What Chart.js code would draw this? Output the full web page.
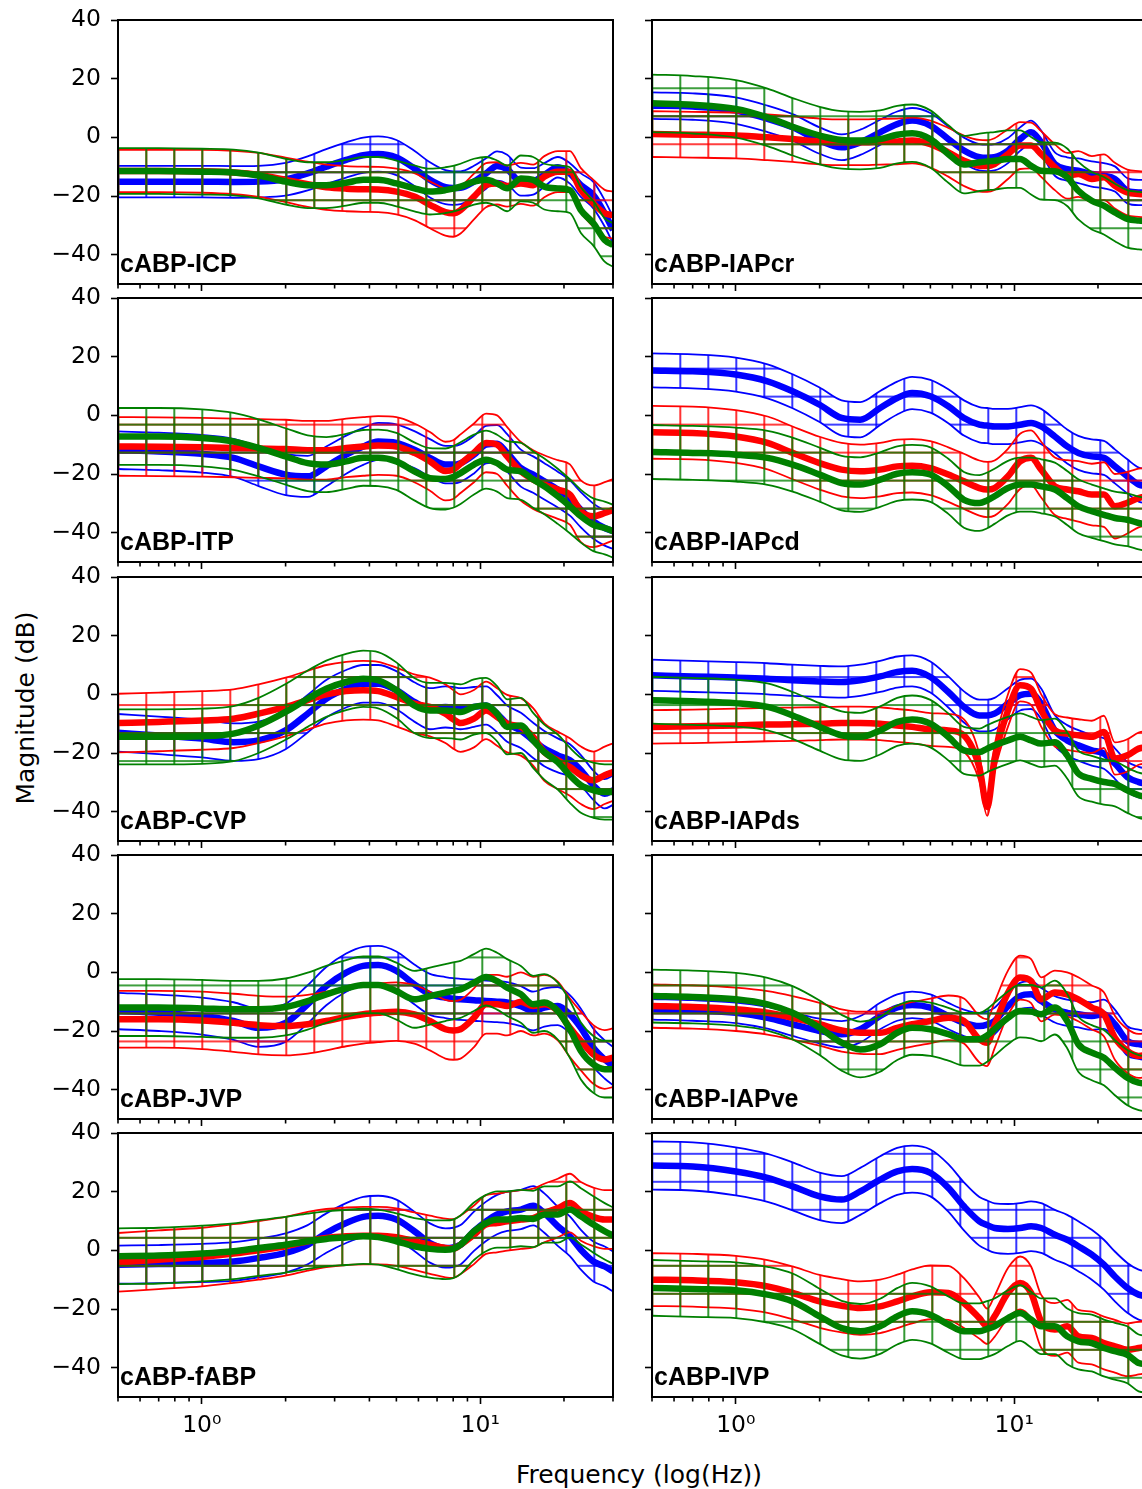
<!DOCTYPE html>
<html>
<head>
<meta charset="utf-8">
<script src="https://cdn.jsdelivr.net/npm/chart.js@4.4.1/dist/chart.umd.min.js"></script>
<style>
  body { margin: 0; width: 1142px; height: 1489px; overflow: hidden; background: #fff; position: relative; }
  canvas { position: absolute; }
  .axtitle { position: absolute; font: 25px "DejaVu Sans"; color: #000; white-space: nowrap; transform: translate(-50%, -50%); }
  #ylab { left: 25px; top: 708px; transform: translate(-50%, -50%) rotate(-90deg); }
  #xlab { left: 639px; top: 1474px; }
</style>
</head>
<body>
<div id="ylab" class="axtitle">Magnitude (dB)</div>
<div id="xlab" class="axtitle">Frequency (log(Hz))</div>
<script>
// frequency grid (Hz) the curves were read at
const freqHz = [0.5,0.7,1,1.3,1.6,2,2.4,2.8,3.3,3.8,4.3,5,5.8,6.6,7.5,8,8.5,9.5,10.5,11.5,12.5,14,15.5,17,19,21,23,25.5,28,30];

const yTicks = [-40, -20, 0, 20, 40];
const xMajor = [1, 10];
const xMajorLabels = ['10\u2070', '10\u00b9'];
const xMinor = [0.5,0.6,0.7,0.8,0.9,2,3,4,5,6,7,8,9,20,30];

const panelNames = ['cABP-ICP','cABP-IAPcr','cABP-ITP','cABP-IAPcd','cABP-CVP','cABP-IAPds','cABP-JVP','cABP-IAPve','cABP-fABP','cABP-IVP'];

// cABP-ICP
const icpBlue = [-15.1,-15.1,-15.1,-15.2,-15.1,-14.3,-12.3,-10,-7.7,-6.1,-5.7,-6.9,-10.6,-14.5,-17,-17.3,-17.2,-15.1,-12.3,-9.8,-10.9,-15.1,-15,-12.8,-10.2,-12.3,-16.3,-19.7,-25.9,-31.6];
const icpBlueSd = [5.4,5.4,5.4,5.4,5.4,5.6,5.8,6,6,6,6,6,6,6,5.8,5.7,5.6,5.4,5.2,5,5,4.8,4.5,4,3.5,3.5,4,4.5,4.5,4.5];
const icpRed = [-11.5,-11.5,-11.6,-12,-12.8,-14.5,-16,-17,-17.5,-17.7,-17.8,-18.5,-20.2,-23,-25.5,-25.9,-24.8,-20.2,-16.3,-15.7,-16.6,-15.7,-16.3,-13.4,-11.7,-11.7,-18,-22.5,-25.9,-26.5];
const icpRedSd = [7.2,7.2,7.3,7.4,7.5,7.6,7.7,7.7,7.7,7.7,7.7,7.8,8,8,8,8,8,7.8,7.5,7.2,7,7,7,7,7,7,7.5,8,8,8];
const icpGreen = [-11.5,-11.5,-11.7,-12,-13,-15.1,-16.3,-16.3,-15.5,-14.5,-14.5,-15.7,-17.4,-18.5,-18,-17.5,-16.8,-15.1,-14.5,-15.7,-17.4,-14,-14.5,-16.8,-17.4,-18,-24.8,-29.3,-35,-36.7];
const icpGreenSd = [7.8,7.8,7.8,7.8,7.8,7.8,7.8,7.8,7.8,7.8,7.8,7.8,7.8,7.8,7.8,7.8,7.8,7.8,7.8,7.8,7.8,7.8,7.8,7.8,7.8,7.8,7.8,7.6,7.4,7.4];

// cABP-IAPcr
const crBlue = [10.8,10.5,9.1,6.3,3.4,-1.1,-3.4,-1.7,1.7,4.5,5.7,4,-0.6,-4.5,-6.8,-7,-6.8,-4.5,-0.6,1.7,-1.7,-9.1,-10.8,-11.4,-12.5,-13.1,-14.2,-18.2,-18.8,-18.8];
const crBlueSd = [4.5,4.5,4.5,4.5,4.5,4.5,4.4,4.3,4.3,4.3,4.3,4.3,4.3,4.4,4.5,4.5,4.5,4.3,4,4,4,4,4,4.2,4.3,4.3,4.3,4.3,4.3,4.3];
const crRed = [1.1,0.9,0.6,0,-0.6,-1.4,-1.7,-1.7,-1.5,-1.4,-1.1,-2.3,-5.1,-8,-9.7,-9.8,-9.1,-5.7,-2.8,-2.8,-5.7,-10.2,-13.1,-12.5,-14.2,-13.6,-16.5,-18.8,-19.3,-19.5];
const crRedSd = [7.8,7.8,7.8,7.8,7.8,7.8,7.8,7.8,7.8,7.8,7.8,8,8.3,8.6,8.8,8.8,8.8,8.5,8,7.8,7.8,7.8,7.8,7.8,7.8,7.8,7.8,7.8,7.8,7.8];
const crGreen = [11.6,11.1,9.7,6.8,3.6,0.6,-0.9,-1.1,-0.6,0.9,1.4,-0.6,-5.7,-9.3,-8.5,-8.2,-8,-7.4,-7.4,-9.7,-11.4,-11.6,-13.6,-18.2,-21.6,-23.3,-25.6,-27.8,-28.4,-28.6];
const crGreenSd = [9.8,9.8,9.8,9.8,9.8,9.8,9.8,9.8,9.8,9.8,9.8,9.8,9.8,9.8,9.8,9.8,9.8,9.8,9.8,9.8,9.8,9.8,9.8,9.8,9.8,9.8,9.8,9.8,9.8,9.8];

// cABP-ITP
const itpBlue = [-11.9,-12.3,-13.1,-14.5,-17.4,-20.2,-20.8,-17.4,-13.4,-10.6,-8.9,-9.4,-11.7,-14.5,-16.8,-16.8,-16.3,-13.4,-10,-9.7,-12.8,-18,-20.2,-22.5,-25.3,-28.2,-32.2,-36.1,-38.4,-39.5];
const itpBlueSd = [6.4,6.4,6.4,6.5,6.7,7,7,6.8,6.5,6.3,6.3,6.3,6.3,6.4,6.4,6.4,6.4,6.4,6.4,6.4,6.4,6.3,6.2,6.2,6.1,6,6,6,6,6];
const itpRed = [-10.6,-10.7,-10.9,-11.1,-11.3,-11.5,-11.9,-11.9,-11.1,-10.6,-10.3,-10.6,-12.8,-15.7,-19,-18.5,-16.5,-12.8,-9.4,-10,-14,-19.1,-21.9,-23.6,-25.3,-27,-32.7,-34.4,-33.3,-32.2];
const itpRedSd = [10,10,10,10,10,10,10,10,10,10,10,10,10,10,10,10,10,10,10,10,10,10,10,10,10,10.3,10.5,10.5,10.5,10.5];
const itpGreen = [-7.2,-7.2,-7.7,-8.9,-11.1,-14,-16.3,-16.8,-15.7,-14.5,-14.5,-15.7,-19.1,-21.4,-21.7,-21,-19.7,-16.8,-15.1,-16.3,-18.5,-19.1,-21.9,-24.2,-27.6,-31,-34.4,-37.3,-38.4,-39.5];
const itpGreenSd = [9.7,9.7,9.7,9.7,9.7,9.6,9.5,9.4,9.4,9.5,9.6,9.7,9.9,10.2,10.4,10.5,10.5,10.2,9.9,9.7,9.7,9.7,9.6,9.5,9.4,9.2,9,9,9,9];

// cABP-IAPcd
const cdBlue = [15.3,15,13.9,11.6,8.2,3.6,-0.9,-1.5,2.5,5.9,7.6,6.5,3.1,-0.9,-3.2,-3.5,-3.8,-3.8,-3.2,-2.6,-3.8,-7.2,-10.6,-12.8,-14,-14.5,-17.4,-20.8,-23.6,-24.2];
const cdBlueSd = [5.8,5.8,5.8,5.8,5.8,5.9,6,6,5.8,5.6,5.5,5.6,5.8,6,6,6,6,6,6,6,6,5.8,5.8,5.8,5.8,5.8,5.8,5.8,5.8,5.8];
const cdRed = [-5.8,-6,-7.2,-9.4,-12.8,-16.3,-18.5,-19.1,-18.5,-17.4,-17.2,-18,-20.2,-22.5,-24.8,-25.3,-24.8,-20.8,-15.7,-14.5,-18.5,-24.2,-25.3,-25.9,-27,-27,-31,-29.8,-28.2,-27.6];
const cdRedSd = [9,9,9,9,9,9,9.1,9.1,9.1,9.1,9.1,9.2,9.3,9.4,9.4,9.4,9.4,9.4,9.4,9.4,9.5,9.8,10,10.3,10.5,11,11,10.5,10,10];
const cdGreen = [-12.5,-12.8,-13.4,-14.5,-16.8,-20.2,-23.1,-23.6,-21.9,-19.9,-19.4,-20.2,-24.2,-28.8,-29.9,-29,-27.6,-24.8,-23.6,-23.6,-24.2,-25.3,-28.2,-31,-32.7,-33.9,-35,-35.6,-36.7,-37.3];
const cdGreenSd = [9.2,9.2,9.2,9.2,9.2,9.2,9.3,9.3,9.3,9.3,9.3,9.3,9.4,9.5,9.5,9.5,9.4,9.3,9.2,9.2,9.2,9.2,9.2,9.2,9.1,9,9,9,9,9];

// cABP-CVP
const cvpBlue = [-13.1,-14,-15.1,-16.3,-15.7,-12.3,-6.6,-1.5,1.9,3.6,3.6,1.4,-2.6,-4.9,-4.3,-4.5,-4.9,-4.3,-3.8,-6.6,-10,-12.3,-15.7,-18.5,-20.8,-22.5,-25.9,-31,-33.9,-32.7];
const cvpBlueSd = [6.4,6.4,6.4,6.4,6.4,6.4,6.4,6.4,6.4,6.4,6.4,6.5,6.7,7,7,7,7,6.8,6.5,6.3,6.2,6,6,6,5.8,5.5,5.2,5,5,5];
const cvpRed = [-9.8,-9.4,-8.9,-8.3,-6.6,-4.3,-2,0,1.1,1.4,1.1,-0.9,-3.2,-4.3,-6.6,-8.5,-9.8,-8.3,-5.5,-7.7,-10,-11.1,-14.5,-19.7,-22.5,-24.8,-27.6,-29.3,-27.6,-26.5];
const cvpRedSd = [10,10,10,10,10,10,10,10,10,10,10,10,10,10,10,10,9.8,9.8,9.8,9.8,9.8,9.8,9.8,9.8,9.8,9.8,9.8,9.8,9.8,9.8];
const cvpGreen = [-14.5,-14.5,-14.3,-13.4,-10.6,-6,-1.5,1.9,4.2,5.3,4.8,1.4,-3.8,-5.5,-5.5,-5.7,-6,-4.3,-3.8,-6.6,-11.1,-10.6,-15.7,-19.7,-23.1,-27.6,-31,-32.7,-33.3,-33.3];
const cvpGreenSd = [9.4,9.4,9.4,9.4,9.4,9.5,9.6,9.6,9.6,9.6,9.6,9.5,9.4,9.4,9.4,9.4,9.4,9.4,9.4,9.4,9.4,9.4,9.4,9.4,9.4,9.4,9.4,9.4,9.4,9.4];

// cABP-IAPds
const dsBlue = [6.5,6.1,5.7,5.3,4.8,4.4,4.2,4.8,6.1,7.6,8,5.9,0.8,-4.3,-7.2,-7.2,-6.6,-3.2,-0.3,0.2,-3.2,-12.3,-15.7,-17.4,-19.1,-20.2,-23.6,-28.2,-29.9,-30.5];
const dsBlueSd = [5.3,5.3,5.3,5.3,5.3,5.3,5.3,5.3,5.3,5.3,5.3,5.3,5.3,5.3,5.4,5.4,5.4,5.3,5.2,5.2,5.2,5.2,5.2,5.2,5.2,5.2,5.2,5.2,5.2,5.2];
const dsRed = [-11.1,-10.9,-10.6,-10.3,-10.2,-10,-9.8,-9.8,-10,-10.6,-11.1,-12,-12.3,-14,-25,-38.4,-22,-5.5,3.1,1.9,-5.5,-12.3,-13.4,-14,-14.5,-12.8,-21.9,-20.8,-18.5,-18];
const dsRedSd = [5.7,5.7,5.7,5.7,5.7,5.6,5.6,5.6,5.6,5.6,5.6,5.6,5.6,5.5,4.5,3,4.5,5.5,5.5,5.5,5.5,5.5,5.5,5.5,5.5,5.5,5.5,5.5,5.5,5.5];
const dsGreen = [-2,-2.4,-3,-4.3,-7.2,-11.1,-14,-14.5,-12.3,-9.4,-8.6,-10,-14.5,-19.1,-19.7,-18.5,-17.4,-15.7,-14.5,-15.7,-16.8,-16.3,-20.8,-27,-28.8,-29.9,-30.5,-32.7,-34.4,-35];
const dsGreenSd = [8,8,8,8,8,8.1,8.2,8.2,8.2,8.2,8.2,8.1,8,8,8,8,8,8,8,8,8,8,7.9,7.8,7.8,7.7,7.7,7.7,7.7,7.7];

// cABP-JVP
const jvpBlue = [-13.2,-13.8,-14.9,-16.6,-18.9,-17.2,-10.9,-4.7,-0.1,2.2,2.5,0.5,-4.1,-7.5,-8.6,-9,-9.2,-9.5,-9.8,-10,-10.3,-11.5,-13.2,-12,-11.5,-14.3,-18.9,-25.7,-29.7,-31.9];
const jvpBlueSd = [6.2,6.2,6.3,6.4,6.5,6.5,6.5,6.5,6.5,6.5,6.5,6.6,6.8,7,7,7,7,7,7,7,7,6.8,6.6,6.5,6.5,6.5,6.5,6.5,6.5,6.5];
const jvpRed = [-16,-16,-16.4,-17.2,-18,-18.3,-17.7,-16.6,-15.2,-14.3,-13.8,-13.4,-14.3,-16.6,-19.4,-19.8,-19.4,-15.5,-10.9,-10.9,-11.5,-10,-11.5,-10.9,-13.2,-18.9,-23.4,-28,-29.7,-29.1];
const jvpRedSd = [9.7,9.7,9.8,9.9,10,10,10,10,10,10,10,10,10,10,10,10,10,10,10,10,10,10,10,10,10,10,10,10,10,10];
const jvpGreen = [-12,-12,-12.3,-12.6,-12.6,-11.8,-9.8,-7.5,-5.5,-4.3,-4.3,-6.4,-9.2,-8.1,-6.9,-6.3,-5.8,-3.5,-1.6,-3,-5.2,-7.5,-10.9,-10.3,-13.2,-19.4,-26.8,-31.4,-33,-33];
const jvpGreenSd = [9.7,9.7,9.7,9.7,9.7,9.7,9.7,9.7,9.7,9.7,9.7,9.7,9.7,9.7,9.7,9.7,9.7,9.7,9.7,9.7,9.7,9.7,9.7,9.7,9.7,9.7,9.7,9.7,9.7,9.7];

// cABP-IAPve
const veBlue = [-12.6,-13,-13.8,-15.5,-17.7,-20,-21.1,-19.4,-14.9,-12,-11.1,-12,-14.9,-17.2,-18.3,-17.8,-16.6,-11.5,-8.1,-7.5,-9.8,-12.6,-13.8,-14.3,-14.9,-14.3,-17.7,-23.4,-24.5,-25];
const veBlueSd = [3.5,3.5,3.5,3.7,4,4.2,4.5,4.5,4.5,4.5,4.5,4.5,4.5,4.5,4.5,4.5,4.5,4.5,4.5,4.5,4.5,4.5,4.5,4.5,4.7,5,5,5,5,5];
const veRed = [-11.5,-11.8,-12.6,-13.8,-15.5,-17.7,-19.8,-20.6,-20.6,-18.9,-17.7,-16.6,-15.5,-16.6,-22.8,-24,-18,-7,-1.8,-3,-9.2,-6.9,-7.5,-9.2,-12,-14.3,-22.3,-26.8,-28.5,-28];
const veRedSd = [7.4,7.4,7.4,7.4,7.4,7.3,7.2,7.2,7.3,7.5,7.6,7.6,7.6,7.7,7.9,8,7.9,7.6,7.5,7.5,7.5,7.5,7.5,7.5,7.5,7.5,7.5,7.5,7.5,7.5];
const veGreen = [-8.1,-8.4,-9.2,-10.9,-13.8,-18.9,-24,-26.3,-24.5,-20.6,-18.9,-19.4,-21.1,-22.8,-22.8,-21.5,-19.4,-15.5,-13.2,-13.4,-14.3,-12,-16.6,-24.5,-27.4,-29.1,-32.5,-35.9,-37.6,-38];
const veGreenSd = [9,9,9,9,9.1,9.3,9.5,9.5,9.4,9.3,9.2,9.1,9,9,9,9,9,9,9,9.1,9.2,9.2,9.3,9.4,9.4,9.4,9.4,9.4,9.4,9.4];

// cABP-fABP
const fabpBlue = [-4.9,-4.7,-4.3,-3.8,-2.6,-0.9,1.9,5.9,9.3,11.4,11.8,10.5,6.5,2.5,0.8,1,1.9,6.5,9.9,12.2,13.3,13.9,15.2,12.7,8.2,4.8,0.2,-3.8,-5.5,-7.2];
const fabpBlueSd = [6.5,6.5,6.5,6.6,6.6,6.7,6.7,6.7,6.8,6.8,6.8,6.8,6.7,6.7,6.7,6.7,6.7,6.7,6.7,6.7,6.7,6.7,6.7,6.7,6.7,6.8,6.8,6.8,6.8,6.8];
const fabpRed = [-4.1,-3.2,-2.3,-1.1,0,1.4,3.1,4.2,4.8,5,5,4.5,3.1,1.9,0.8,0.6,1.9,5.3,8.8,9.3,9.9,10.5,11,12.7,14.4,16.1,13.3,11.4,10.5,10.5];
const fabpRedSd = [10,10,10,10,10,10,10,9.9,9.8,9.8,9.8,9.8,9.8,9.9,10,10,10,10,10,10,10,10,10,10,10,10,10,10,10,10];
const fabpGreen = [-2,-1.8,-1.1,-0.3,0.8,1.9,3.1,3.9,4.4,4.8,4.5,3.1,1.4,0.5,0.2,0.5,1.9,6.5,9.3,10.5,10.5,11,10.7,12.2,12.2,13.9,11.6,8.8,6.5,5];
const fabpGreenSd = [9.5,9.5,9.5,9.5,9.5,9.5,9.4,9.4,9.4,9.4,9.4,9.5,9.6,9.8,10,10,10,9.8,9.6,9.6,9.6,9.6,9.6,9.6,9.6,9.6,9.6,9.6,9.6,9.6];

// cABP-IVP
const ivpBlue = [28.9,28.6,26.9,24.7,21.8,18.4,17.3,20.1,24.1,26.9,27.7,26.4,21.3,15,9.9,8.6,7.6,7.3,7.6,8.2,7.6,5.3,3.6,1.4,-1.5,-4.9,-8.9,-12.8,-15.1,-15.7];
const ivpBlueSd = [8.2,8.2,8.2,8.2,8.2,8.1,8,8,8,8,8,8,8.1,8.2,8.3,8.4,8.4,8.5,8.5,8.5,8.5,8.5,8.5,8.5,8.5,8.5,8.5,8.5,8.5,8.5];
const ivpRed = [-10,-10.2,-10.9,-12.3,-14.5,-17.4,-18.9,-19.7,-19.1,-17.4,-15.7,-14.3,-14.5,-18,-23.1,-25.9,-22.5,-14.5,-11.1,-14.5,-24.2,-27,-25.9,-29.3,-29.9,-31.6,-32.7,-33.9,-33.3,-32.7];
const ivpRedSd = [9,9,9,9,9,9,9.1,9.1,9.1,9.1,9.2,9.2,9.2,8.5,7,6,7,8.5,9,9,9,9,9,9,9,9,9,9,9,9];
const ivpGreen = [-12.8,-13.2,-13.6,-15.1,-17.4,-22.5,-26.5,-27.6,-25.9,-22.5,-20.8,-22,-25.3,-27.6,-27.6,-26.8,-25.9,-23.1,-21.4,-23.6,-25.9,-25.9,-29.3,-31,-31.6,-33.3,-34.4,-35.6,-38.4,-38.8];
const ivpGreenSd = [9.5,9.5,9.5,9.5,9.5,9.4,9.3,9.3,9.4,9.6,9.7,9.7,9.6,9.5,9.5,9.5,9.5,9.5,9.5,9.5,9.5,9.5,9.5,9.6,9.7,9.7,9.7,9.7,9.7,9.7];

const panelSeries = [
  [[icpBlue, icpBlueSd], [icpRed, icpRedSd], [icpGreen, icpGreenSd]],
  [[crBlue, crBlueSd], [crRed, crRedSd], [crGreen, crGreenSd]],
  [[itpBlue, itpBlueSd], [itpRed, itpRedSd], [itpGreen, itpGreenSd]],
  [[cdBlue, cdBlueSd], [cdRed, cdRedSd], [cdGreen, cdGreenSd]],
  [[cvpBlue, cvpBlueSd], [cvpRed, cvpRedSd], [cvpGreen, cvpGreenSd]],
  [[dsBlue, dsBlueSd], [dsRed, dsRedSd], [dsGreen, dsGreenSd]],
  [[jvpBlue, jvpBlueSd], [jvpRed, jvpRedSd], [jvpGreen, jvpGreenSd]],
  [[veBlue, veBlueSd], [veRed, veRedSd], [veGreen, veGreenSd]],
  [[fabpBlue, fabpBlueSd], [fabpRed, fabpRedSd], [fabpGreen, fabpGreenSd]],
  [[ivpBlue, ivpBlueSd], [ivpRed, ivpRedSd], [ivpGreen, ivpGreenSd]]
];
const seriesColors = ['#0000ff', '#ff0000', '#008000'];

// layout (page pixels)
const rowTops = [20, 298, 577, 855, 1133];
const plotH = 264, plotW = 495;
const hatchX0 = [118.3, 652.3], hatchY0 = 88.3;

Chart.defaults.font.family = '"DejaVu Sans"';
Chart.defaults.color = '#000';

function hatch(color, dx, dy) {
  const s = 28;
  const c = document.createElement('canvas');
  c.width = s; c.height = s;
  const g = c.getContext('2d');
  g.strokeStyle = color;
  g.lineWidth = 1.6;
  g.beginPath();
  g.moveTo(0, s / 2); g.lineTo(s, s / 2);
  g.moveTo(s / 2, 0); g.lineTo(s / 2, s);
  g.stroke();
  const p = g.createPattern(c, 'repeat');
  p.setTransform(new DOMMatrix().translate(dx, dy));
  return p;
}
const mod = (a, m) => ((a % m) + m) % m;

const framePlugin = {
  id: 'frame',
  afterDatasetsDraw(chart, args, opts) {
    const { ctx, chartArea: a } = chart;
    const x = chart.scales.x;
    ctx.save();
    ctx.font = 'bold 25px "Liberation Sans"';
    ctx.fillStyle = '#000';
    ctx.textBaseline = 'alphabetic';
    ctx.fillText(opts.name, a.left + 2, a.bottom - 12);
    ctx.strokeStyle = '#000';
    ctx.lineWidth = 1.6;
    ctx.beginPath();
    xMinor.forEach(f => {
      const px = x.getPixelForValue(f);
      ctx.moveTo(px, a.bottom); ctx.lineTo(px, a.bottom + 4.5);
    });
    ctx.stroke();
    ctx.lineWidth = 2;
    ctx.strokeRect(a.left, a.top, a.right - a.left, a.bottom - a.top);
    ctx.restore();
  }
};

panelNames.forEach((name, i) => {
  const row = Math.floor(i / 2), col = i % 2;
  const cLeft = col ? 620 : 0;
  const cW = col ? 540 : 640;
  const plotLeft = col ? 32 : 118;
  const topPad = 24;
  const bottom = row === 4 ? 62 : 14;
  const cTop = rowTops[row] - topPad;
  const cv = document.createElement('canvas');
  cv.width = cW; cv.height = topPad + plotH + bottom;
  cv.style.left = cLeft + 'px'; cv.style.top = cTop + 'px';
  document.body.appendChild(cv);

  const dx = mod(hatchX0[col] - cLeft - 14, 28);
  const dy = mod(hatchY0 - cTop - 14, 28.04);

  // top-most first: Chart.js paints dataset 0 last
  const datasets = [];
  [2, 1, 0].forEach(s => {
    const [mean, sd] = panelSeries[i][s];
    const color = seriesColors[s];
    const pts = arr => arr.map((v, k) => ({ x: freqHz[k], y: v }));
    datasets.push({ data: pts(mean), borderColor: color, borderWidth: 6.5, fill: false });
    datasets.push({ data: pts(mean.map((m, k) => m + sd[k])), borderColor: color, borderWidth: 1.8,
                    fill: '+1', backgroundColor: hatch(color, dx, dy) });
    datasets.push({ data: pts(mean.map((m, k) => m - sd[k])), borderColor: color, borderWidth: 1.8, fill: false });
  });

  new Chart(cv, {
    type: 'line',
    data: { datasets },
    plugins: [framePlugin],
    options: {
      responsive: false,
      animation: false,
      devicePixelRatio: 1,
      clip: 0,
      layout: { padding: { left: 0, top: topPad, right: cW - plotLeft - plotW, bottom: 0 } },
      elements: {
        point: { radius: 0 },
        line: { cubicInterpolationMode: 'monotone', borderJoinStyle: 'round' }
      },
      plugins: {
        legend: { display: false },
        tooltip: { enabled: false },
        frame: { name },
        filler: { propagate: false }
      },
      scales: {
        x: {
          type: 'logarithmic', min: 0.5, max: 30,
          afterBuildTicks: sc => { sc.ticks = xMajor.map(v => ({ value: v })); },
          afterFit: sc => { sc.height = bottom; sc.paddingLeft = 0; sc.paddingRight = 0; },
          border: { display: false },
          grid: { drawOnChartArea: false, tickLength: 7, tickWidth: 1.6, tickColor: '#000' },
          ticks: {
            autoSkip: false, maxRotation: 0, padding: 8,
            font: { size: 23.5 },
            callback: v => row === 4 ? xMajorLabels[xMajor.indexOf(v)] : ''
          }
        },
        y: {
          min: -50, max: 40,
          afterBuildTicks: sc => { sc.ticks = yTicks.map(v => ({ value: v })); },
          afterFit: sc => { sc.width = plotLeft; sc.paddingTop = 0; sc.paddingBottom = 0; },
          border: { display: false },
          grid: { drawOnChartArea: false, tickLength: 7, tickWidth: 1.6, tickColor: '#000' },
          ticks: {
            padding: 10,
            font: { size: 23.5 },
            callback: v => col ? '' : (v < 0 ? '\u2212' + Math.abs(v) : String(v))
          }
        }
      }
    }
  });
});
</script>
</body>
</html>
